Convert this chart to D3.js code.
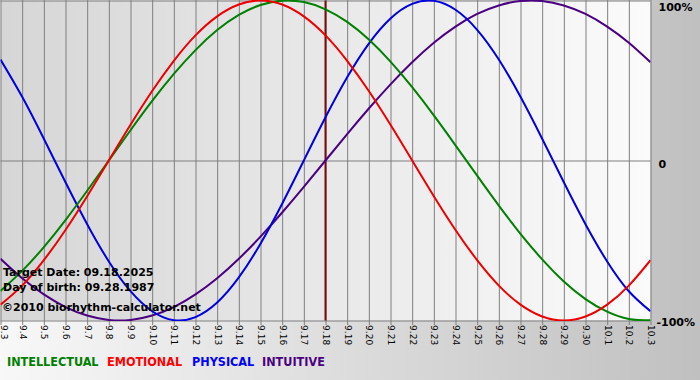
<!DOCTYPE html>
<html>
<head>
<meta charset="utf-8">
<script src="https://cdn.jsdelivr.net/npm/d3@7"></script>
<style>
  html, body { margin: 0; padding: 0; background: #fff; }
  svg { display: block; }
</style>
</head>
<body>
<div id="chart"></div>
<script>
// ---- data ----
const dayLabels = ["9.3","9.4","9.5","9.6","9.7","9.8","9.9","9.10","9.11","9.12","9.13","9.14","9.15","9.16","9.17","9.18","9.19","9.20","9.21","9.22","9.23","9.24","9.25","9.26","9.27","9.28","9.29","9.30","10.1","10.2","10.3"];
const targetLabel = "9.18";
const physical = [0.631,0.398,0.136,-0.136,-0.398,-0.631,-0.817,-0.942,-0.998,-0.979,-0.888,-0.731,-0.520,-0.270,0,0.270,0.520,0.731,0.888,0.979,0.998,0.942,0.817,0.631,0.398,0.136,-0.136,-0.398,-0.631,-0.817,-0.942];
const emotional = [-0.901,-0.782,-0.623,-0.434,-0.223,0,0.223,0.434,0.623,0.782,0.901,0.975,1,0.975,0.901,0.782,0.623,0.434,0.223,0,-0.223,-0.434,-0.623,-0.782,-0.901,-0.975,-1,-0.975,-0.901,-0.782,-0.623];
const intellectual = [-0.815,-0.690,-0.541,-0.372,-0.189,0,0.189,0.372,0.541,0.690,0.815,0.910,0.972,0.999,0.990,0.945,0.866,0.756,0.618,0.458,0.282,0.095,-0.095,-0.282,-0.458,-0.618,-0.756,-0.866,-0.945,-0.990,-0.999];
const intuitive = [-0.614,-0.736,-0.837,-0.916,-0.969,-0.997,-0.997,-0.969,-0.916,-0.837,-0.736,-0.614,-0.476,-0.325,-0.165,0,0.165,0.325,0.476,0.614,0.736,0.837,0.916,0.969,0.997,0.997,0.969,0.916,0.837,0.736,0.614];
const yTickValues = [1, 0, -1];
const yTickLabels = ["100%", "0", "-100%"];
const legendNames = ["INTELLECTUAL", "EMOTIONAL", "PHYSICAL", "INTUITIVE"];
const infoLines = ["Target Date: 09.18.2025", "Day of birth: 09.28.1987", "\u00A92010 biorhythm-calculator.net"];

// ---- chart ----
const W = 700, H = 380;
const svg = d3.select("#chart").append("svg").attr("width", W).attr("height", H);
const defs = svg.append("defs");

const bgGrad = defs.append("linearGradient").attr("id", "bg").attr("x1", "0").attr("x2", "1").attr("y1", "0").attr("y2", "0");
bgGrad.append("stop").attr("offset", "0").attr("stop-color", "#f8f8f8");
bgGrad.append("stop").attr("offset", "1").attr("stop-color", "#c0c0c0");
const plotGrad = defs.append("linearGradient").attr("id", "pg").attr("x1", "0").attr("x2", "1").attr("y1", "0").attr("y2", "0");
plotGrad.append("stop").attr("offset", "0").attr("stop-color", "#d6d6d6");
plotGrad.append("stop").attr("offset", "1").attr("stop-color", "#fbfbfb");

svg.append("rect").attr("width", W).attr("height", H).attr("fill", "url(#bg)");

const x = d3.scalePoint().domain(dayLabels).range([0.5, 650.5]);
const y = d3.scaleLinear().domain([-1, 1]).range([320.5, 0.5]);

svg.append("rect").attr("x", x(dayLabels[0])).attr("y", y(1))
  .attr("width", x(dayLabels[dayLabels.length - 1]) - x(dayLabels[0]))
  .attr("height", y(-1) - y(1)).attr("fill", "url(#pg)");

defs.append("clipPath").attr("id", "clip").append("rect")
  .attr("x", x(dayLabels[0])).attr("y", y(1) - 1)
  .attr("width", x(dayLabels[dayLabels.length - 1]) - x(dayLabels[0]))
  .attr("height", y(-1) - y(1) + 1.5);

// vertical grid + ticks
const xAxis = d3.axisBottom(x).tickSize(325).tickSizeOuter(0).tickFormat(d => d);
const gx = svg.append("g").call(xAxis);
gx.select(".domain").remove();
gx.selectAll(".tick line").attr("stroke", "#7f7f7f").attr("stroke-width", 1);
gx.selectAll(".tick text")
  .attr("x", 0).attr("y", 0)
  .attr("dy", "0.35em").attr("dx", "-0.1em")
  .style("text-anchor", "start")
  .attr("font-family", "'DejaVu Sans', Verdana, sans-serif")
  .attr("font-size", 9).attr("fill", "#000")
  .attr("transform", (d, i) => i === 0 ? "translate(3,326) rotate(90)" : "translate(0,326) rotate(90)");

// horizontal lines
const yAxis = d3.axisRight(y).tickValues(yTickValues).tickSize(650).tickFormat((d, i) => yTickLabels[i]);
const gy = svg.append("g").attr("transform", "translate(0.5,0)").call(yAxis);
gy.select(".domain").remove();
gy.selectAll(".tick line").attr("stroke", "#7f7f7f").attr("stroke-width", 1);
gy.selectAll(".tick text")
  .attr("x", 658)
  .attr("font-family", "'DejaVu Sans', Verdana, sans-serif")
  .attr("font-weight", "bold").attr("font-size", 11).attr("fill", "#000")
  .attr("dy", (d) => d === 1 ? "0.95em" : (d === -1 ? "0.45em" : "0.6em"));
gy.selectAll(".tick").filter(d => d === -1).select("text").attr("x", 656);

// target date line
svg.append("line")
  .attr("x1", x(targetLabel)).attr("x2", x(targetLabel))
  .attr("y1", y(1)).attr("y2", y(-1))
  .attr("stroke", "#7a0b0b").attr("stroke-width", 2);

// curves
const series = [
  { name: "INTUITIVE", values: intuitive, color: "#4b0082" },
  { name: "PHYSICAL", values: physical, color: "#0000e0" },
  { name: "INTELLECTUAL", values: intellectual, color: "#008000" },
  { name: "EMOTIONAL", values: emotional, color: "#ee0000" }
];
const line = d3.line().x((d, i) => x(dayLabels[i])).y(d => y(d)).curve(d3.curveNatural);
const gl = svg.append("g").attr("clip-path", "url(#clip)");
series.forEach(s => {
  gl.append("path").attr("d", line(s.values)).attr("fill", "none")
    .attr("stroke", s.color).attr("stroke-width", 2);
});

// info text
const infoY = [276, 291, 311];
const infoX = [3, 3, 2];
infoLines.forEach((t, i) => {
  svg.append("text").attr("x", infoX[i]).attr("y", infoY[i]).text(t)
    .attr("font-family", "'DejaVu Sans', Verdana, sans-serif")
    .attr("font-weight", "bold").attr("font-size", 11).attr("fill", "#000");
});

// legend
const legendColors = { INTELLECTUAL: "#008000", EMOTIONAL: "#ff0000", PHYSICAL: "#0000ff", INTUITIVE: "#4b0082" };
const legendX = [7, 107, 192, 262];
legendNames.forEach((n, i) => {
  svg.append("text").attr("x", legendX[i]).attr("y", 366).text(n)
    .attr("font-family", "'DejaVu Sans Condensed', 'DejaVu Sans', sans-serif")
    .attr("font-weight", "bold").attr("font-size", 12.5)
    .attr("fill", legendColors[n]);
});
</script>
</body>
</html>
